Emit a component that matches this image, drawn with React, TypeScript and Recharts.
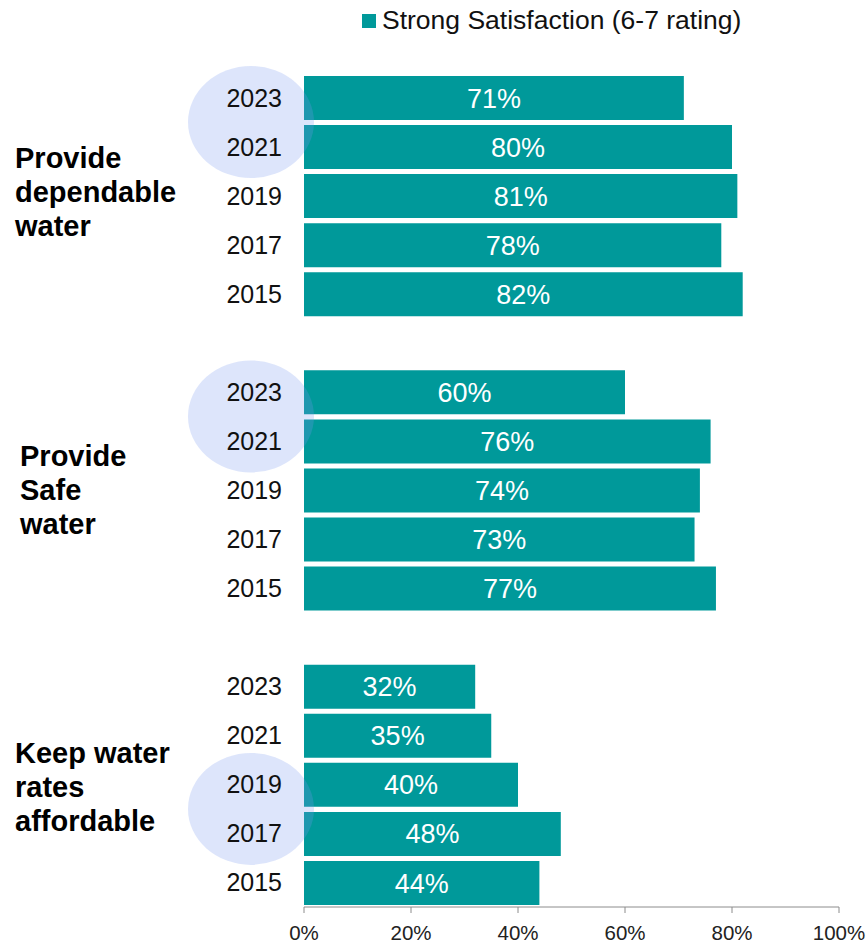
import React from "react";
import { Bar, BarChart, LabelList, Legend, ReferenceDot, XAxis, YAxis } from "recharts";

const YEARS = ["2023", "2021", "2019", "2017", "2015"];
const DEPENDABLE = [71, 80, 81, 78, 82];
const SAFE = [60, 76, 74, 73, 77];
const AFFORDABLE = [32, 35, 40, 48, 44];
const GROUP_LABELS = [
  ["Provide", "dependable", "water"],
  ["Provide", "Safe", "water"],
  ["Keep water", "rates", "affordable"],
];
// first year of the circled pair in each group
const HIGHLIGHT_YEARS = ["2023", "2023", "2019"];
const X_TICKS = [0, 20, 40, 60, 80, 100];

const TEAL = "#00999a";
const FONT = "'Liberation Sans', Arial, sans-serif";
const WIDTH = 867;
const HEIGHT = 944;
const MARGIN = { top: 73, right: 28, bottom: 7, left: 0 };
const X_AXIS_HEIGHT = 30;

type Row = { id: string; year: string; value: number | null; group: number; idx: number };

const SERIES = [DEPENDABLE, SAFE, AFFORDABLE];
const rows: Row[] = [];
SERIES.forEach((values, g) => {
  if (g > 0) rows.push({ id: `gap-${g}`, year: "", value: null, group: g, idx: -1 });
  YEARS.forEach((year, i) => rows.push({ id: `${g}-${year}`, year, value: values[i], group: g, idx: i }));
});
const rowById = new Map(rows.map((r) => [r.id, r]));
const ROW_STEP = (HEIGHT - MARGIN.top - MARGIN.bottom - X_AXIS_HEIGHT) / rows.length;
const GROUP_LABEL_X = [15, 20, 15];
const GROUP_LABEL_DY = [-4, 0, 3];
const LINE_HEIGHT = 34;

function YearTick(props: any) {
  const { x, y, payload } = props;
  const row = rowById.get(payload.value);
  if (!row || !row.year) return null;
  const lines = GROUP_LABELS[row.group];
  const lx = GROUP_LABEL_X[row.group];
  return (
    <g>
      <text x={x} y={y} textAnchor="end" dominantBaseline="central" fontSize={25} fill="#111" fontFamily={FONT}>
        {row.year}
      </text>
      {row.idx === 2 && (
        <text
          x={lx}
          y={y - ((lines.length - 1) * LINE_HEIGHT) / 2 + GROUP_LABEL_DY[row.group]}
          fontSize={29}
          fontWeight="bold"
          fill="#000"
          fontFamily={FONT}
          dominantBaseline="central"
        >
          {lines.map((line, k) => (
            <tspan key={k} x={lx} dy={k === 0 ? 0 : LINE_HEIGHT}>
              {line}
            </tspan>
          ))}
        </text>
      )}
    </g>
  );
}

function Highlight(props: any) {
  const { cx, cy } = props;
  return <ellipse cx={cx - 53} cy={cy + ROW_STEP / 2} rx={63} ry={56} fill="#7898f0" fillOpacity={0.25} />;
}

function LegendContent() {
  return (
    <div style={{ display: "flex", alignItems: "center", fontFamily: FONT, fontSize: 26.5, color: "#111" }}>
      <span style={{ display: "inline-block", width: 14, height: 14, background: TEAL, marginRight: 6 }} />
      <span>Strong Satisfaction (6-7 rating)</span>
    </div>
  );
}

export default function App() {
  return (
    <div style={{ position: "absolute", left: 0, top: 0, width: WIDTH, height: HEIGHT, background: "#fff" }}>
      <BarChart width={WIDTH} height={HEIGHT} data={rows} layout="vertical" margin={MARGIN}>
        <XAxis
          type="number"
          domain={[0, 100]}
          ticks={X_TICKS}
          interval={0}
          height={X_AXIS_HEIGHT}
          tickFormatter={(v: number) => `${v}%`}
          stroke="#8c8c8c"
          tickSize={6}
          tickMargin={12}
          tick={{ fill: "#222", fontSize: 20.5, fontFamily: FONT }}
        />
        <Bar dataKey="value" fill={TEAL} barSize={44} isAnimationActive={false}>
          <LabelList
            dataKey="value"
            position="center"
            fill="#fff"
            fontSize={27}
            fontFamily={FONT}
            formatter={(v: any) => (v == null ? "" : `${v}%`)}
          />
        </Bar>
        <YAxis
          type="category"
          dataKey="id"
          width={304}
          axisLine={false}
          tickLine={false}
          tickSize={0}
          tickMargin={22}
          interval={0}
          tick={<YearTick />}
        />
        <Legend
          layout="vertical"
          align="center"
          verticalAlign="middle"
          content={<LegendContent />}
          wrapperStyle={{ left: 362, top: 5, width: 440 }}
        />
        {HIGHLIGHT_YEARS.map((year, g) => (
          <ReferenceDot
            key={g}
            x={0}
            y={`${g}-${year}`}
            ifOverflow="visible"
            shape={<Highlight />}
            zIndex={1500}
          />
        ))}
      </BarChart>
    </div>
  );
}
